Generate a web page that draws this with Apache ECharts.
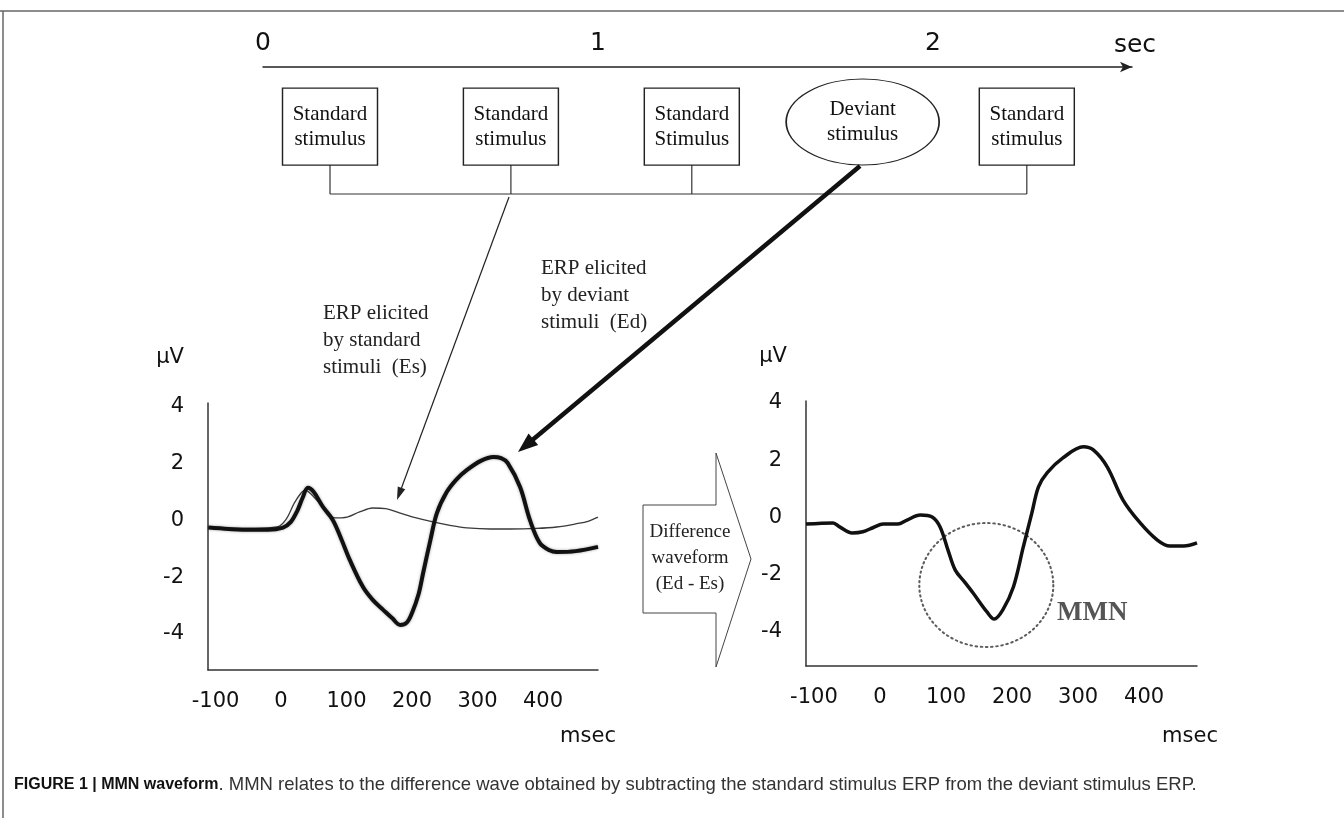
<!DOCTYPE html>
<html>
<head>
<meta charset="utf-8">
<script src="https://cdn.jsdelivr.net/npm/echarts@6/dist/echarts.min.js"></script>
<style>
html,body{margin:0;padding:0;background:#fff;}
#main{width:1344px;height:818px;}
</style>
</head>
<body>
<div id="main"></div>
<script>
// ---------- data ----------
const timelineTicks = [0, 1, 2];
const stimulusTimes = [0.2, 0.74, 1.28, 1.79, 2.28];
const stimulusLabels = ['Standard\nstimulus', 'Standard\nstimulus', 'Standard\nStimulus', 'Deviant\nstimulus', 'Standard\nstimulus'];
const stimulusKinds = ['standard', 'standard', 'standard', 'deviant', 'standard'];

const msecTicks = [-100, 0, 100, 200, 300, 400];
const uvTicks = [-4, -2, 0, 2, 4];

// ERP elicited by standard stimuli (Es)
const esTime = [-111, -40, -6, 8, 20, 30, 37, 45, 64, 82, 101, 120, 140, 160, 182, 205, 232, 260, 284, 320, 350, 390, 421, 450, 470, 484];
const esVals = [-0.26, -0.28, -0.23, 0.05, 0.6, 0.95, 1.07, 0.95, 0.48, 0.09, 0.12, 0.3, 0.44, 0.42, 0.26, 0.1, -0.05, -0.18, -0.26, -0.3, -0.3, -0.28, -0.23, -0.12, -0.02, 0.12];

// ERP elicited by deviant stimuli (Ed)
const edTime = [-111, -80, -47, -20, 3, 15, 25, 33, 41, 50, 64, 79, 92, 105, 125, 140, 156, 170, 182, 192, 200, 210, 217, 228, 238, 253, 268, 284, 305, 324, 336, 346, 365, 380, 395, 410, 421, 450, 484];
const edVals = [-0.25, -0.3, -0.33, -0.33, -0.25, -0.05, 0.35, 0.8, 1.15, 1.0, 0.48, 0.02, -0.65, -1.39, -2.34, -2.8, -3.15, -3.45, -3.68, -3.6, -3.26, -2.6, -1.85, -0.7, 0.26, 1.0, 1.45, 1.78, 2.1, 2.24, 2.2, 2.03, 1.18, 0.02, -0.79, -1.05, -1.11, -1.08, -0.93];

// Difference waveform (Ed - Es)
const diffTime = [-112, -71, -61, -42, -26, -10, 5, 27, 41, 61, 79, 91, 103, 114, 128, 141, 162, 173, 186, 202, 217, 230, 240, 253, 277, 308, 323, 344, 368, 394, 420, 439, 460, 480];
const diffVals = [-0.23, -0.19, -0.33, -0.54, -0.5, -0.35, -0.23, -0.23, -0.09, 0.09, 0.02, -0.33, -1.14, -1.84, -2.25, -2.64, -3.3, -3.55, -3.23, -2.43, -1.03, 0.16, 1.07, 1.56, 2.08, 2.47, 2.36, 1.77, 0.61, -0.19, -0.79, -1.0, -1.0, -0.89];

// MMN region (centre time, centre amplitude)
const mmnCentre = [161, -2.36];

// ---------- chart ----------
const chart = echarts.init(document.getElementById('main'), null, {renderer: 'canvas'});
const SANS = 'DejaVu Sans';
const SERIF = 'Liberation Serif';
const AX = '#333';

function valueXAxis(gridIndex, min, max, margin) {
  return {
    type: 'value', gridIndex, min, max,
    axisLine: {show: true, onZero: false, lineStyle: {color: AX, width: 1.5}},
    axisTick: {show: false},
    splitLine: {show: false},
    axisLabel: {customValues: msecTicks, margin, fontFamily: SANS, fontSize: 21, color: '#111'}
  };
}
function valueYAxis(gridIndex, min, max) {
  return {
    type: 'value', gridIndex, min, max,
    axisLine: {show: true, onZero: false, lineStyle: {color: AX, width: 1.5}},
    axisTick: {show: false},
    splitLine: {show: false},
    axisLabel: {customValues: uvTicks, margin: 24, fontFamily: SANS, fontSize: 21, color: '#111'}
  };
}

const stimulusData = stimulusTimes.map((t, i) => {
  const dev = stimulusKinds[i] === 'deviant';
  return {
    value: [t, dev ? 0.423 : 0.458],
    symbol: dev ? 'circle' : 'rect',
    symbolSize: dev ? [153, 86] : [95, 77]
  };
});

const option = {
  backgroundColor: '#fff',
  animation: false,
  grid: [
    {left: 208, width: 390, top: 403, height: 267},
    {left: 806, width: 391, top: 401, height: 265},
    {left: 263, width: 869, top: 67, height: 130}
  ],
  xAxis: [
    valueXAxis(0, -111.5, 484, 21),
    valueXAxis(1, -112, 480, 21),
    {
      type: 'value', gridIndex: 2, min: 0, max: 2.594, position: 'top',
      axisLine: {show: true, onZero: false, symbol: ['none', 'arrow'], symbolSize: [8, 12], lineStyle: {color: '#222', width: 1.5}},
      axisTick: {show: false},
      splitLine: {show: false},
      axisLabel: {customValues: timelineTicks, margin: 11, fontFamily: SANS, fontSize: 25, color: '#111'}
    }
  ],
  yAxis: [
    valueYAxis(0, -5.27, 4.14),
    valueYAxis(1, -5.19, 4.07),
    {type: 'value', gridIndex: 2, min: 0, max: 1, inverse: true, show: false}
  ],
  series: [
    {
      name: 'Es', type: 'line', xAxisIndex: 0, yAxisIndex: 0, smooth: 0.35, symbol: 'none', silent: true,
      lineStyle: {color: '#3a3a3a', width: 1.3},
      data: esTime.map((t, i) => [t, esVals[i]]), z: 3
    },
    {
      name: 'Ed', type: 'line', xAxisIndex: 0, yAxisIndex: 0, smooth: 0.35, symbol: 'none', silent: true,
      lineStyle: {color: '#111', width: 4, shadowColor: 'rgba(0,0,0,0.35)', shadowBlur: 3},
      data: edTime.map((t, i) => [t, edVals[i]]), z: 4
    },
    {
      name: 'Ed - Es', type: 'line', xAxisIndex: 1, yAxisIndex: 1, smooth: 0.35, symbol: 'none', silent: true,
      lineStyle: {color: '#111', width: 3.5},
      data: diffTime.map((t, i) => [t, diffVals[i]]), z: 4
    },
    {
      name: 'MMN', type: 'scatter', xAxisIndex: 1, yAxisIndex: 1, silent: true,
      symbol: 'circle', symbolSize: [134, 124],
      itemStyle: {color: 'rgba(0,0,0,0)', borderColor: '#333', borderWidth: 2, borderType: [1.5, 3.5], borderCap: 'round'},
      label: {show: true, position: 'inside', offset: [106, 28], formatter: 'MMN', fontFamily: SERIF, fontWeight: 'bold', fontSize: 27, color: '#2a2a2a'},
      data: [mmnCentre], z: 2
    },
    {
      name: 'stimuli', type: 'scatter', xAxisIndex: 2, yAxisIndex: 2, silent: true,
      itemStyle: {color: '#fff', borderColor: '#222', borderWidth: 1.3, opacity: 1},
      label: {show: true, position: 'inside', formatter: p => stimulusLabels[p.dataIndex], fontFamily: SERIF, fontSize: 21, lineHeight: 25, color: '#111'},
      data: stimulusData, z: 3
    }
  ]
};
chart.setOption(option);

// ---------- annotations ----------
function arrow(x1, y1, x2, y2, w, headLen, headW, color) {
  const dx = x2 - x1, dy = y2 - y1, L = Math.hypot(dx, dy);
  const ux = dx / L, uy = dy / L, px = -uy, py = ux;
  const bx = x2 - ux * headLen, by = y2 - uy * headLen;
  return [
    {type: 'line', silent: true, shape: {x1, y1, x2: bx + ux * 2, y2: by + uy * 2}, style: {stroke: color, lineWidth: w}, z: 10},
    {type: 'polygon', silent: true, shape: {points: [[x2, y2], [bx + px * headW / 2, by + py * headW / 2], [bx - px * headW / 2, by - py * headW / 2]]}, style: {fill: color}, z: 10}
  ];
}

const px = t => chart.convertToPixel({xAxisIndex: 2}, t);
const bracketY = 194, boxBottom = 165;
const stemXs = stimulusTimes.map((t, i) => stimulusKinds[i] === 'deviant' ? null : px(t)).filter(v => v !== null);
const g = [];
// figure frame
g.push({type: 'line', silent: true, shape: {x1: 0, y1: 11, x2: 1344, y2: 11}, style: {stroke: '#666', lineWidth: 1.5}});
g.push({type: 'line', silent: true, shape: {x1: 3, y1: 11, x2: 3, y2: 818}, style: {stroke: '#666', lineWidth: 1.5}});
// bracket
g.push({type: 'line', silent: true, shape: {x1: stemXs[0], y1: bracketY, x2: stemXs[stemXs.length - 1], y2: bracketY}, style: {stroke: '#333', lineWidth: 1.2}});
stemXs.forEach(x => g.push({type: 'line', silent: true, shape: {x1: x, y1: boxBottom, x2: x, y2: bracketY}, style: {stroke: '#333', lineWidth: 1.2}}));
// arrows
g.push(...arrow(509, 197, 397, 500, 1.2, 13, 8, '#222'));
g.push(...arrow(860, 166, 518, 452, 4.5, 20, 15, '#111'));
// timeline unit
g.push({type: 'text', silent: true, style: {text: 'sec', x: 1135, y: 45, align: 'center', verticalAlign: 'middle', font: '25px "DejaVu Sans"', fill: '#111'}});
// axis names
[[170, 358, 'μV'], [773, 357, 'μV'], [588, 737, 'msec'], [1190, 737, 'msec']].forEach(([x, y, t]) =>
  g.push({type: 'text', silent: true, style: {text: t, x, y, align: 'center', verticalAlign: 'middle', font: '21px "DejaVu Sans"', fill: '#111'}}));
// annotation texts
g.push({type: 'text', silent: true, style: {text: 'ERP elicited\nby standard\nstimuli  (Es)', x: 323, y: 300, align: 'left', verticalAlign: 'top', font: '21px "Liberation Serif"', lineHeight: 27, fill: '#222'}});
g.push({type: 'text', silent: true, style: {text: 'ERP elicited\nby deviant\nstimuli  (Ed)', x: 541, y: 255, align: 'left', verticalAlign: 'top', font: '21px "Liberation Serif"', lineHeight: 27, fill: '#222'}});
// block arrow for difference waveform
g.push({type: 'polygon', silent: true, shape: {points: [[643, 505], [716, 505], [716, 453], [751, 559], [716, 667], [716, 613], [643, 613]]}, style: {fill: '#fff', stroke: '#444', lineWidth: 1}, z: 5});
g.push({type: 'text', silent: true, style: {text: 'Difference\nwaveform\n(Ed - Es)', x: 690, y: 519, align: 'center', verticalAlign: 'top', font: '19px "Liberation Serif"', lineHeight: 26, fill: '#222'}, z: 6});
// caption
g.push({type: 'text', silent: true, style: {
  x: 14, y: 785, verticalAlign: 'middle',
  text: '{b|FIGURE 1 | MMN waveform}{n|. MMN relates to the difference wave obtained by subtracting the standard stimulus ERP from the deviant stimulus ERP.}',
  rich: {
    b: {fontFamily: 'Liberation Sans', fontWeight: 'bold', fontSize: 16, fill: '#111'},
    n: {fontFamily: 'Liberation Sans', fontSize: 18.5, fill: '#333'}
  }
}});
chart.setOption({graphic: {elements: g}});
</script>
</body>
</html>
